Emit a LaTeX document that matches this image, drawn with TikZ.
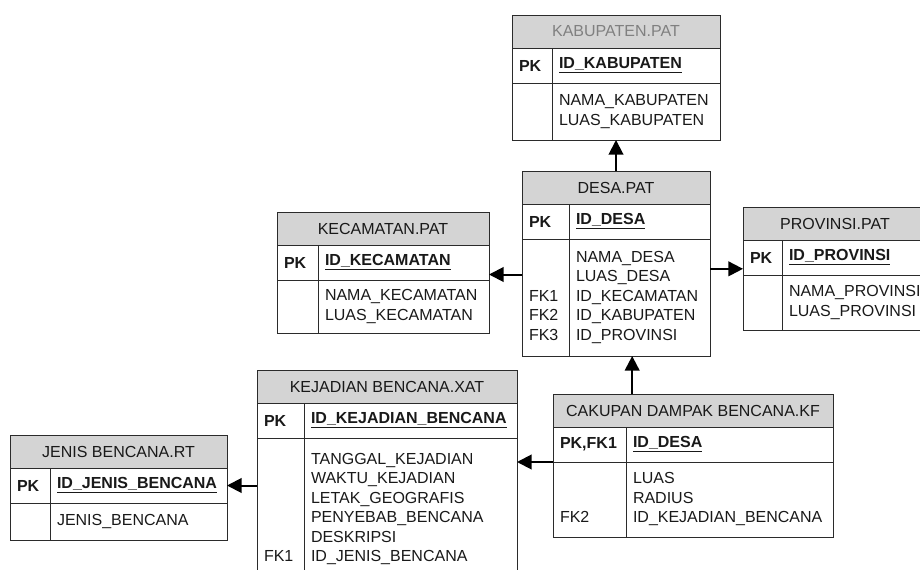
\documentclass[tikz,border=0pt]{standalone}
\usepackage{fontspec}
\setmainfont{Liberation Sans}
\usepackage{tikz}
\usetikzlibrary{positioning,arrows.meta}
\definecolor{hdrgray}{HTML}{D4D4D4}
\definecolor{linegray}{HTML}{2B2B2B}
\newcommand{\pkey}[1]{\underline{#1}}

\begin{document}
\begin{tikzpicture}[
    x=0.75pt, y=-0.75pt,
    every node/.style={font=\fontsize{12}{14.6}\selectfont, outer sep=0pt, text=black!90},
    ttl/.style={draw=linegray, fill=hdrgray, anchor=north west, minimum height=24.75pt, inner sep=0pt},
    keycell/.style={draw=linegray, minimum height=26.25pt, inner xsep=5.25pt, inner ysep=0pt, align=left, font=\fontsize{12}{14.6}\selectfont\bfseries},
    bodycell/.style={draw=linegray, inner xsep=5.25pt, inner ysep=0pt, align=left, execute at begin node=\strut, execute at end node=\strut},
    fk/.style={-{Triangle[length=11pt,width=11pt]}, line width=1.5pt}
  ]
  \useasboundingbox (0,0) rectangle (920,570);
  \clip (0,0) rectangle (920,570);

  % kabupaten
  \node[ttl, minimum width=156pt, text=gray] (kabT) at (512,15) {KABUPATEN.PAT};
  \node[keycell, text width=19.5pt, below right=0pt of kabT.south west] (kabK) {PK};
  \node[keycell, text width=115.5pt, right=0pt of kabK] (kabKF) {\pkey{ID\_KABUPATEN}};
  \node[bodycell, text width=19.5pt, minimum height=42.75pt, below=0pt of kabK] (kabB) {};
  \node[bodycell, text width=115.5pt, minimum height=42.75pt, right=0pt of kabB] (kabBF) {NAMA\_KABUPATEN\\LUAS\_KABUPATEN};

  % desa
  \node[ttl, minimum width=141pt] (desaT) at (522,171) {DESA.PAT};
  \node[keycell, text width=24.75pt, below right=0pt of desaT.south west] (desaK) {PK};
  \node[keycell, text width=95.25pt, right=0pt of desaK] (desaKF) {\pkey{ID\_DESA}};
  \node[bodycell, text width=24.75pt, minimum height=87.75pt, below=0pt of desaK] (desaB) {~\\~\\FK1\\FK2\\FK3};
  \node[bodycell, text width=95.25pt, minimum height=87.75pt, right=0pt of desaB] (desaBF) {NAMA\_DESA\\LUAS\_DESA\\ID\_KECAMATAN\\ID\_KABUPATEN\\ID\_PROVINSI};

  % kecamatan
  \node[ttl, minimum width=159pt] (kecT) at (277,212) {KECAMATAN.PAT};
  \node[keycell, text width=20.25pt, below right=0pt of kecT.south west] (kecK) {PK};
  \node[keycell, text width=117.75pt, right=0pt of kecK] (kecKF) {\pkey{ID\_KECAMATAN}};
  \node[bodycell, text width=20.25pt, minimum height=39.75pt, below=0pt of kecK] (kecB) {};
  \node[bodycell, text width=117.75pt, minimum height=39.75pt, right=0pt of kecB] (kecBF) {NAMA\_KECAMATAN\\LUAS\_KECAMATAN};

  % provinsi
  \node[ttl, minimum width=138pt] (provT) at (743,207) {PROVINSI.PAT};
  \node[keycell, text width=18.75pt, below right=0pt of provT.south west] (provK) {PK};
  \node[keycell, text width=98.25pt, right=0pt of provK] (provKF) {\pkey{ID\_PROVINSI}};
  \node[bodycell, text width=18.75pt, minimum height=41.25pt, below=0pt of provK] (provB) {};
  \node[bodycell, text width=98.25pt, minimum height=41.25pt, right=0pt of provB] (provBF) {NAMA\_PROVINSI\\LUAS\_PROVINSI};

  % kejadian bencana
  \node[ttl, minimum width=195pt] (kejT) at (257,370) {KEJADIAN BENCANA.XAT};
  \node[keycell, text width=24.75pt, below right=0pt of kejT.south west] (kejK) {PK};
  \node[keycell, text width=149.25pt, right=0pt of kejK] (kejKF) {\pkey{ID\_KEJADIAN\_BENCANA}};
  \node[bodycell, text width=24.75pt, minimum height=106.5pt, below=0pt of kejK] (kejB) {~\\~\\~\\~\\~\\FK1};
  \node[bodycell, text width=149.25pt, minimum height=106.5pt, right=0pt of kejB] (kejBF) {TANGGAL\_KEJADIAN\\WAKTU\_KEJADIAN\\LETAK\_GEOGRAFIS\\PENYEBAB\_BENCANA\\DESKRIPSI\\ID\_JENIS\_BENCANA};

  % jenis bencana
  \node[ttl, minimum width=162.75pt] (jenisT) at (10,435) {JENIS BENCANA.RT};
  \node[keycell, text width=19.5pt, below right=0pt of jenisT.south west] (jenisK) {PK};
  \node[keycell, text width=122.25pt, right=0pt of jenisK] (jenisKF) {\pkey{ID\_JENIS\_BENCANA}};
  \node[bodycell, text width=19.5pt, minimum height=27.75pt, below=0pt of jenisK] (jenisB) {};
  \node[bodycell, text width=122.25pt, minimum height=27.75pt, right=0pt of jenisB] (jenisBF) {JENIS\_BENCANA};

  % cakupan dampak bencana
  \node[ttl, minimum width=210pt] (cakT) at (553,394) {CAKUPAN DAMPAK BENCANA.KF};
  \node[keycell, text width=44.25pt, below right=0pt of cakT.south west] (cakK) {PK,FK1};
  \node[keycell, text width=144.75pt, right=0pt of cakK] (cakKF) {\pkey{ID\_DESA}};
  \node[bodycell, text width=44.25pt, minimum height=56.25pt, below=0pt of cakK] (cakB) {~\\~\\FK2};
  \node[bodycell, text width=144.75pt, minimum height=56.25pt, right=0pt of cakB] (cakBF) {LUAS\\RADIUS\\ID\_KEJADIAN\_BENCANA};

  % --- relations ---
  \draw[fk] (desaT.north) -- (desaT.north |- kabBF.south);
  \coordinate[yshift=-9pt] (kecIn) at (kecKF.east);
  \draw[fk] (desaB.west |- kecIn) -- (kecIn);
  \coordinate[yshift=-8.5pt] (provIn) at (provK.west);
  \draw[fk] (desaBF.east |- provIn) -- (provIn);
  \coordinate[xshift=-5.5pt] (desaIn) at (desaBF.south);
  \draw[fk] (cakT.north -| desaIn) -- (desaIn);
  \coordinate (kejIn) at (kejBF.east |- cakK.south);
  \draw[fk] (cakK.south west) -- (kejIn);
  \draw[fk] (kejB.west |- jenisKF.east) -- (jenisKF.east);

\end{tikzpicture}
\end{document}
